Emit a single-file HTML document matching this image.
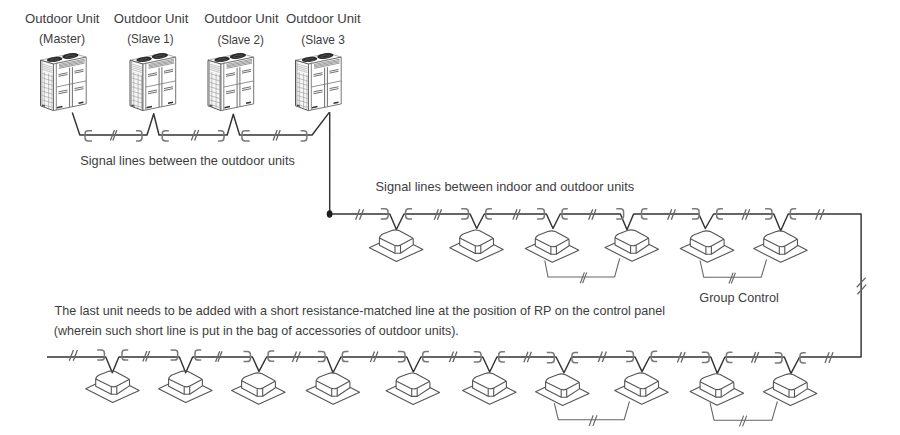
<!DOCTYPE html>
<html><head><meta charset="utf-8"><style>
html,body{margin:0;padding:0;background:#fff;width:900px;height:435px;overflow:hidden}
svg{display:block;font-family:"Liberation Sans",sans-serif}
</style></head><body>
<svg width="900" height="435" viewBox="0 0 900 435"><defs><g id="ou"><path d="M4.5,10.2 L17.5,14 L50.2,7.1 L37.2,3.3 Z" fill="#fff" stroke="#888" stroke-width="0.7"/><path d="M4.5,10.2 L17.5,14 L17.5,60.6 L4.5,55.8 Z" fill="#f6f6f6" stroke="#555" stroke-width="1"/><path d="M17.5,14 L50.2,7.1 L50.2,53.9 L17.5,60.6 Z" fill="#fff" stroke="#666" stroke-width="0.9"/><ellipse cx="18.6" cy="9.4" rx="7.8" ry="2.5" transform="rotate(-6 18.6 9.4)" fill="#2a2a2a"/><ellipse cx="18.6" cy="9.9" rx="4.5" ry="1.1" transform="rotate(-6 18.6 9.9)" fill="none" stroke="#777" stroke-width="0.45"/><ellipse cx="34.4" cy="5.9" rx="8.2" ry="2.8" transform="rotate(-8 34.4 5.9)" fill="#2a2a2a"/><ellipse cx="34.4" cy="6.4" rx="4.8" ry="1.2" transform="rotate(-8 34.4 6.4)" fill="none" stroke="#777" stroke-width="0.45"/><path d="M20.3,12.8 V60" stroke="#777" stroke-width="0.9"/><path d="M5.9,10 V56.3" stroke="#888" stroke-width="0.7"/><path d="M23,14.47 L48.6,9.22 M23,15.77 L48.6,10.52 M23,17.07 L48.6,11.82 M23,18.37 L48.6,13.12 " stroke="#707070" stroke-width="0.7"/><path d="M6,13.95 L16.8,17.19 M6,15.75 L16.8,18.99 M6,17.55 L16.8,20.79 M6,19.35 L16.8,22.59 " stroke="#999" stroke-width="0.5"/><path d="M6,23.45 L16.8,26.69 M6,27.85 L16.8,31.09 M6,32.25 L16.8,35.49 M6,36.65 L16.8,39.89 M6,41.05 L16.8,44.29 M6,45.45 L16.8,48.69 M6,49.85 L16.8,53.09 M6,54.25 L16.8,57.49 M8.3,22.14 V56.64 M12.6,23.43 V57.93 M16.0,24.45 V58.95 " stroke="#999" stroke-width="0.6"/><path d="M33.6,17.70 V57.00 M36.4,17.13 V56.43" stroke="#606060" stroke-width="0.9"/><path d="M20.5,36.98 L50,30.94" stroke="#777" stroke-width="0.8"/><path d="M22.5,24.58 L31.5,22.73 M22.5,26.38 L31.5,24.53 M38.5,21.30 L47.5,19.45 M38.5,23.09 L47.5,21.25 M22.5,41.88 L31.5,40.03 M22.5,43.77 L31.5,41.93 M38.5,38.59 L47.5,36.75 M38.5,40.49 L47.5,38.65 " stroke="#555" stroke-width="0.85"/><path d="M21,57.68 L26.5,56.55 M42.5,53.27 L47.5,52.25" stroke="#333" stroke-width="1.6"/><path d="M6,55.2 L9,56.1" stroke="#444" stroke-width="1.1"/></g></defs><path d="M72.3,112.4 L79.8,135.0 L147,135.0 L153.7,113.8 L159,135.0 L227.2,135.0 L233.3,114.2 L239.6,135.0 L312.1,135.0 L329.1,112.6 L329.7,112.6 L329.7,214" fill="none" stroke="#333" stroke-width="1.45" stroke-linejoin="round"/>
<path d="M329.7,214.0 L389.8,214.0 L396.4,229.5 L404.0,214.0 L470.1,214.0 L476.7,228.5 L484.3,214.0 L546.4,214.0 L553.0,228.5 L560.2,214.0 L620.4,214.0 L627.0,229.7 L633.6,214.0 L698.8,214.0 L705.3,228.5 L713.6,214.0 L773.8,214.0 L780.7,230.7 L788.2,214.0 L861.1,214.0 L861.1,357.0 L799.6,357.0 L791.0,373.4 L784.4,357.0 L724.9,357.0 L717.3,373.4 L710.8,357.0 L649.6,357.0 L642.0,371.6 L635.1,357.0 L571.6,357.0 L564.0,372.8 L556.1,357.0 L496.9,357.0 L489.7,372.0 L482.8,357.0 L420.9,357.0 L413.3,372.0 L406.8,357.0 L340.9,357.0 L333.0,372.8 L326.8,357.0 L266.6,357.0 L259.0,371.4 L252.4,357.0 L192.6,357.0 L185.7,372.8 L179.4,357.0 L118.9,357.0 L112.3,372.8 L105.8,357.0 L47,357.0" fill="none" stroke="#333" stroke-width="1.45" stroke-linejoin="round"/>
<g fill="none" stroke="#7a7a7a" stroke-width="1.5"><path d="M92.0,130.7 H88.2 Q85.0,130.7 85.0,133.9 V137.7 Q85.0,140.9 88.2,140.9 H92.0"/><path d="M168.8,130.7 H165.4 Q162.2,130.7 162.2,133.9 V137.7 Q162.2,140.9 165.4,140.9 H168.8"/><path d="M249.7,130.7 H245.1 Q241.9,130.7 241.9,133.9 V137.7 Q241.9,140.9 245.1,140.9 H249.7"/><path d="M136.0,130.7 H138.8 Q142.0,130.7 142.0,133.9 V137.7 Q142.0,140.9 138.8,140.9 H136.0"/><path d="M218.0,130.7 H220.8 Q224.0,130.7 224.0,133.9 V137.7 Q224.0,140.9 220.8,140.9 H218.0"/><path d="M300.6,130.7 H303.7 Q306.9,130.7 306.9,133.9 V137.7 Q306.9,140.9 303.7,140.9 H300.6"/><path d="M380.8,208.7 H384.9 Q388.1,208.7 388.1,211.9 V215.7 Q388.1,218.9 384.9,218.9 H380.8"/><path d="M461.2,208.7 H465.2 Q468.4,208.7 468.4,211.9 V215.7 Q468.4,218.9 465.2,218.9 H461.2"/><path d="M537.1,208.7 H541.2 Q544.4,208.7 544.4,211.9 V215.7 Q544.4,218.9 541.2,218.9 H537.1"/><path d="M616.3,208.7 H620.4 Q623.6,208.7 623.6,211.9 V215.7 Q623.6,218.9 620.4,218.9 H616.3"/><path d="M691.9,208.7 H695.9 Q699.1,208.7 699.1,211.9 V215.7 Q699.1,218.9 695.9,218.9 H691.9"/><path d="M765.1,208.7 H768.8 Q772.0,208.7 772.0,211.9 V215.7 Q772.0,218.9 768.8,218.9 H765.1"/><path d="M412.1,208.7 H408.8 Q405.6,208.7 405.6,211.9 V215.7 Q405.6,218.9 408.8,218.9 H412.1"/><path d="M491.9,208.7 H488.9 Q485.7,208.7 485.7,211.9 V215.7 Q485.7,218.9 488.9,218.9 H491.9"/><path d="M567.8,208.7 H565.2 Q562.0,208.7 562.0,211.9 V215.7 Q562.0,218.9 565.2,218.9 H567.8"/><path d="M647.5,208.7 H644.7 Q641.5,208.7 641.5,211.9 V215.7 Q641.5,218.9 644.7,218.9 H647.5"/><path d="M722.9,208.7 H719.9 Q716.7,208.7 716.7,211.9 V215.7 Q716.7,218.9 719.9,218.9 H722.9"/><path d="M796.2,208.7 H793.5 Q790.3,208.7 790.3,211.9 V215.7 Q790.3,218.9 793.5,218.9 H796.2"/><path d="M97.2,349.9 H101.2 Q104.4,349.9 104.4,353.1 V356.9 Q104.4,360.1 101.2,360.1 H97.2"/><path d="M170.5,349.9 H174.5 Q177.7,349.9 177.7,353.1 V356.9 Q177.7,360.1 174.5,360.1 H170.5"/><path d="M243.5,351.4 H247.2 Q250.4,351.4 250.4,354.6 V358.4 Q250.4,361.6 247.2,361.6 H243.5"/><path d="M317.8,351.4 H321.9 Q325.1,351.4 325.1,354.6 V358.4 Q325.1,361.6 321.9,361.6 H317.8"/><path d="M397.8,351.5 H401.9 Q405.1,351.5 405.1,354.7 V358.5 Q405.1,361.7 401.9,361.7 H397.8"/><path d="M473.8,351.7 H477.9 Q481.1,351.7 481.1,354.9 V358.7 Q481.1,361.9 477.9,361.9 H473.8"/><path d="M546.8,352.6 H551.1 Q554.3,352.6 554.3,355.8 V359.6 Q554.3,362.8 551.1,362.8 H546.8"/><path d="M626.1,351.2 H630.2 Q633.4,351.2 633.4,354.4 V358.2 Q633.4,361.4 630.2,361.4 H626.1"/><path d="M701.8,352.3 H705.9 Q709.1,352.3 709.1,355.5 V359.3 Q709.1,362.5 705.9,362.5 H701.8"/><path d="M774.8,352.7 H778.8 Q782.0,352.7 782.0,355.9 V359.7 Q782.0,362.9 778.8,362.9 H774.8"/><path d="M128.2,349.9 H125.2 Q122.0,349.9 122.0,353.1 V356.9 Q122.0,360.1 125.2,360.1 H128.2"/><path d="M201.2,349.9 H198.2 Q195.0,349.9 195.0,353.1 V356.9 Q195.0,360.1 198.2,360.1 H201.2"/><path d="M274.2,351.1 H271.2 Q268.0,351.1 268.0,354.3 V358.1 Q268.0,361.3 271.2,361.3 H274.2"/><path d="M348.5,351.4 H345.5 Q342.3,351.4 342.3,354.6 V358.4 Q342.3,361.6 345.5,361.6 H348.5"/><path d="M428.9,351.5 H425.9 Q422.7,351.5 422.7,354.7 V358.5 Q422.7,361.7 425.9,361.7 H428.9"/><path d="M504.9,351.7 H501.9 Q498.7,351.7 498.7,354.9 V358.7 Q498.7,361.9 501.9,361.9 H504.9"/><path d="M578.1,352.6 H575.1 Q571.9,352.6 571.9,355.8 V359.6 Q571.9,362.8 575.1,362.8 H578.1"/><path d="M657.2,351.2 H654.5 Q651.3,351.2 651.3,354.4 V358.2 Q651.3,361.4 654.5,361.4 H657.2"/><path d="M732.5,352.3 H729.5 Q726.3,352.3 726.3,355.5 V359.3 Q726.3,362.5 729.5,362.5 H732.5"/><path d="M805.8,352.7 H803.2 Q800.0,352.7 800.0,355.9 V359.7 Q800.0,362.9 803.2,362.9 H805.8"/></g>
<g fill="none" stroke="#666" stroke-width="1.3"><path d="M110.40,140.60 L114.50,130.00 M112.80,140.60 L116.90,130.00"/><path d="M191.30,140.60 L195.40,130.00 M194.60,140.60 L198.70,130.00"/><path d="M273.10,140.60 L277.20,130.00 M276.10,140.60 L280.20,130.00"/><path d="M355.60,219.80 L359.70,209.20 M359.50,219.80 L363.60,209.20"/><path d="M434.30,219.80 L438.40,209.20 M437.40,219.80 L441.50,209.20"/><path d="M512.90,219.80 L517.00,209.20 M516.10,219.80 L520.20,209.20"/><path d="M588.60,219.80 L592.70,209.20 M591.90,219.80 L596.00,209.20"/><path d="M667.60,219.80 L671.70,209.20 M671.30,219.80 L675.40,209.20"/><path d="M742.10,219.80 L746.20,209.20 M745.60,219.80 L749.70,209.20"/><path d="M815.60,219.80 L819.70,209.20 M820.00,219.80 L824.10,209.20"/><path d="M856.8,287.2 L865.6,277.6 M857.4,294.2 L866.2,284.6"/><path d="M69.30,360.70 L73.40,350.10 M73.30,360.70 L77.40,350.10"/><path d="M142.80,361.50 L146.90,350.90 M145.60,361.50 L149.70,350.90"/><path d="M215.60,361.80 L219.70,351.20 M217.90,361.80 L222.00,351.20"/><path d="M292.40,362.10 L296.50,351.50 M296.30,362.10 L300.40,351.50"/><path d="M370.40,362.10 L374.50,351.50 M373.80,362.10 L377.90,351.50"/><path d="M449.40,362.10 L453.50,351.50 M452.90,362.10 L457.00,351.50"/><path d="M523.90,362.30 L528.00,351.70 M527.30,362.30 L531.40,351.70"/><path d="M598.30,362.00 L602.40,351.40 M602.30,362.00 L606.40,351.40"/><path d="M677.40,362.50 L681.50,351.90 M681.00,362.50 L685.10,351.90"/><path d="M751.50,362.70 L755.60,352.10 M754.60,362.70 L758.70,352.10"/><path d="M825.00,362.90 L829.10,352.30 M828.90,362.90 L833.00,352.30"/></g>
<ellipse cx="329.6" cy="214" rx="2.9" ry="3.7" fill="#1e1e1e"/>
<g fill="none" stroke="#555" stroke-width="1.1" stroke-linejoin="round"><path d="M379.40,243.00 L369.40,247.70 L396.40,261.40 L422.90,249.40 L413.20,244.40"/>
<path d="M379.40,238.60 Q379.40,235.60 382.80,234.00 L391.90,230.60 Q395.60,229.20 399.40,230.70 L411.40,237.20 Q413.20,238.10 413.20,239.40 L413.20,244.90 L400.50,253.30 L394.90,253.30 L379.40,245.20 Z"/>
<path d="M379.40,237.90 L393.80,245.10 Q397.30,246.70 400.60,245.00 L413.20,238.20"/>
<path d="M395.00,245.60 V253.30 M400.50,245.20 V253.30"/>
<path d="M459.70,243.10 L449.70,247.80 L476.70,261.50 L503.20,249.50 L493.50,244.50"/>
<path d="M459.70,238.70 Q459.70,235.70 463.10,234.10 L472.20,230.70 Q475.90,229.30 479.70,230.80 L491.70,237.30 Q493.50,238.20 493.50,239.50 L493.50,245.00 L480.80,253.40 L475.20,253.40 L459.70,245.30 Z"/>
<path d="M459.70,238.00 L474.10,245.20 Q477.60,246.80 480.90,245.10 L493.50,238.30"/>
<path d="M475.30,245.70 V253.40 M480.80,245.30 V253.40"/>
<path d="M535.30,243.90 L525.30,248.60 L552.30,262.30 L578.80,250.30 L569.10,245.30"/>
<path d="M535.30,239.50 Q535.30,236.50 538.70,234.90 L547.80,231.50 Q551.50,230.10 555.30,231.60 L567.30,238.10 Q569.10,239.00 569.10,240.30 L569.10,245.80 L556.40,254.20 L550.80,254.20 L535.30,246.10 Z"/>
<path d="M535.30,238.80 L549.70,246.00 Q553.20,247.60 556.50,245.90 L569.10,239.10"/>
<path d="M550.90,246.50 V254.20 M556.40,246.10 V254.20"/>
<path d="M615.00,242.90 L605.00,247.60 L632.00,261.30 L658.50,249.30 L648.80,244.30"/>
<path d="M615.00,238.50 Q615.00,235.50 618.40,233.90 L627.50,230.50 Q631.20,229.10 635.00,230.60 L647.00,237.10 Q648.80,238.00 648.80,239.30 L648.80,244.80 L636.10,253.20 L630.50,253.20 L615.00,245.10 Z"/>
<path d="M615.00,237.80 L629.40,245.00 Q632.90,246.60 636.20,244.90 L648.80,238.10"/>
<path d="M630.60,245.50 V253.20 M636.10,245.10 V253.20"/>
<path d="M690.30,243.90 L680.30,248.60 L707.30,262.30 L733.80,250.30 L724.10,245.30"/>
<path d="M690.30,239.50 Q690.30,236.50 693.70,234.90 L702.80,231.50 Q706.50,230.10 710.30,231.60 L722.30,238.10 Q724.10,239.00 724.10,240.30 L724.10,245.80 L711.40,254.20 L705.80,254.20 L690.30,246.10 Z"/>
<path d="M690.30,238.80 L704.70,246.00 Q708.20,247.60 711.50,245.90 L724.10,239.10"/>
<path d="M705.90,246.50 V254.20 M711.40,246.10 V254.20"/>
<path d="M763.70,243.90 L753.70,248.60 L780.70,262.30 L807.20,250.30 L797.50,245.30"/>
<path d="M763.70,239.50 Q763.70,236.50 767.10,234.90 L776.20,231.50 Q779.90,230.10 783.70,231.60 L795.70,238.10 Q797.50,239.00 797.50,240.30 L797.50,245.80 L784.80,254.20 L779.20,254.20 L763.70,246.10 Z"/>
<path d="M763.70,238.80 L778.10,246.00 Q781.60,247.60 784.90,245.90 L797.50,239.10"/>
<path d="M779.30,246.50 V254.20 M784.80,246.10 V254.20"/>
<path d="M95.70,384.00 L85.70,388.70 L112.70,402.40 L139.20,390.40 L129.50,385.40"/>
<path d="M95.70,379.60 Q95.70,376.60 99.10,375.00 L108.20,371.60 Q111.90,370.20 115.70,371.70 L127.70,378.20 Q129.50,379.10 129.50,380.40 L129.50,385.90 L116.80,394.30 L111.20,394.30 L95.70,386.20 Z"/>
<path d="M95.70,378.90 L110.10,386.10 Q113.60,387.70 116.90,386.00 L129.50,379.20"/>
<path d="M111.30,386.60 V394.30 M116.80,386.20 V394.30"/>
<path d="M168.60,384.00 L158.60,388.70 L185.60,402.40 L212.10,390.40 L202.40,385.40"/>
<path d="M168.60,379.60 Q168.60,376.60 172.00,375.00 L181.10,371.60 Q184.80,370.20 188.60,371.70 L200.60,378.20 Q202.40,379.10 202.40,380.40 L202.40,385.90 L189.70,394.30 L184.10,394.30 L168.60,386.20 Z"/>
<path d="M168.60,378.90 L183.00,386.10 Q186.50,387.70 189.80,386.00 L202.40,379.20"/>
<path d="M184.20,386.60 V394.30 M189.70,386.20 V394.30"/>
<path d="M241.60,385.90 L231.60,390.60 L258.60,404.30 L285.10,392.30 L275.40,387.30"/>
<path d="M241.60,381.50 Q241.60,378.50 245.00,376.90 L254.10,373.50 Q257.80,372.10 261.60,373.60 L273.60,380.10 Q275.40,381.00 275.40,382.30 L275.40,387.80 L262.70,396.20 L257.10,396.20 L241.60,388.10 Z"/>
<path d="M241.60,380.80 L256.00,388.00 Q259.50,389.60 262.80,387.90 L275.40,381.10"/>
<path d="M257.20,388.50 V396.20 M262.70,388.10 V396.20"/>
<path d="M316.10,385.90 L306.10,390.60 L333.10,404.30 L359.60,392.30 L349.90,387.30"/>
<path d="M316.10,381.50 Q316.10,378.50 319.50,376.90 L328.60,373.50 Q332.30,372.10 336.10,373.60 L348.10,380.10 Q349.90,381.00 349.90,382.30 L349.90,387.80 L337.20,396.20 L331.60,396.20 L316.10,388.10 Z"/>
<path d="M316.10,380.80 L330.50,388.00 Q334.00,389.60 337.30,387.90 L349.90,381.10"/>
<path d="M331.70,388.50 V396.20 M337.20,388.10 V396.20"/>
<path d="M396.10,386.10 L386.10,390.80 L413.10,404.50 L439.60,392.50 L429.90,387.50"/>
<path d="M396.10,381.70 Q396.10,378.70 399.50,377.10 L408.60,373.70 Q412.30,372.30 416.10,373.80 L428.10,380.30 Q429.90,381.20 429.90,382.50 L429.90,388.00 L417.20,396.40 L411.60,396.40 L396.10,388.30 Z"/>
<path d="M396.10,381.00 L410.50,388.20 Q414.00,389.80 417.30,388.10 L429.90,381.30"/>
<path d="M411.70,388.70 V396.40 M417.20,388.30 V396.40"/>
<path d="M472.60,385.90 L462.60,390.60 L489.60,404.30 L516.10,392.30 L506.40,387.30"/>
<path d="M472.60,381.50 Q472.60,378.50 476.00,376.90 L485.10,373.50 Q488.80,372.10 492.60,373.60 L504.60,380.10 Q506.40,381.00 506.40,382.30 L506.40,387.80 L493.70,396.20 L488.10,396.20 L472.60,388.10 Z"/>
<path d="M472.60,380.80 L487.00,388.00 Q490.50,389.60 493.80,387.90 L506.40,381.10"/>
<path d="M488.20,388.50 V396.20 M493.70,388.10 V396.20"/>
<path d="M545.60,387.00 L535.60,391.70 L562.60,405.40 L589.10,393.40 L579.40,388.40"/>
<path d="M545.60,382.60 Q545.60,379.60 549.00,378.00 L558.10,374.60 Q561.80,373.20 565.60,374.70 L577.60,381.20 Q579.40,382.10 579.40,383.40 L579.40,388.90 L566.70,397.30 L561.10,397.30 L545.60,389.20 Z"/>
<path d="M545.60,381.90 L560.00,389.10 Q563.50,390.70 566.80,389.00 L579.40,382.20"/>
<path d="M561.20,389.60 V397.30 M566.70,389.20 V397.30"/>
<path d="M624.70,385.90 L614.70,390.60 L641.70,404.30 L668.20,392.30 L658.50,387.30"/>
<path d="M624.70,381.50 Q624.70,378.50 628.10,376.90 L637.20,373.50 Q640.90,372.10 644.70,373.60 L656.70,380.10 Q658.50,381.00 658.50,382.30 L658.50,387.80 L645.80,396.20 L640.20,396.20 L624.70,388.10 Z"/>
<path d="M624.70,380.80 L639.10,388.00 Q642.60,389.60 645.90,387.90 L658.50,381.10"/>
<path d="M640.30,388.50 V396.20 M645.80,388.10 V396.20"/>
<path d="M700.10,386.80 L690.10,391.50 L717.10,405.20 L743.60,393.20 L733.90,388.20"/>
<path d="M700.10,382.40 Q700.10,379.40 703.50,377.80 L712.60,374.40 Q716.30,373.00 720.10,374.50 L732.10,381.00 Q733.90,381.90 733.90,383.20 L733.90,388.70 L721.20,397.10 L715.60,397.10 L700.10,389.00 Z"/>
<path d="M700.10,381.70 L714.50,388.90 Q718.00,390.50 721.30,388.80 L733.90,382.00"/>
<path d="M715.70,389.40 V397.10 M721.20,389.00 V397.10"/>
<path d="M773.40,387.00 L763.40,391.70 L790.40,405.40 L816.90,393.40 L807.20,388.40"/>
<path d="M773.40,382.60 Q773.40,379.60 776.80,378.00 L785.90,374.60 Q789.60,373.20 793.40,374.70 L805.40,381.20 Q807.20,382.10 807.20,383.40 L807.20,388.90 L794.50,397.30 L788.90,397.30 L773.40,389.20 Z"/>
<path d="M773.40,381.90 L787.80,389.10 Q791.30,390.70 794.60,389.00 L807.20,382.20"/>
<path d="M789.00,389.60 V397.30 M794.50,389.20 V397.30"/></g>
<g fill="none" stroke="#666" stroke-width="1.1"><path d="M544.8,260.5 L548,277 L614.6,277 L619.7,258.3"/><path d="M700,260.5 L703.8,277.3 L761.2,277.3 L766.6,259.4"/><path d="M554.3,403.1 L558.3,419.7 L624.2,419.7 L629.5,401.3"/><path d="M710,402.5 L714,420.2 L771.9,420.2 L777.4,401.3"/><path d="M580.30,283.20 L584.40,272.40 M582.60,283.20 L586.70,272.40"/><path d="M729.00,283.50 L733.10,272.70 M731.30,283.50 L735.40,272.70"/><path d="M589.10,426.00 L593.20,415.20 M592.90,426.00 L597.00,415.20"/><path d="M739.50,426.40 L743.60,415.60 M742.60,426.40 L746.70,415.60"/></g>
<use href="#ou" x="36" y="50"/><use href="#ou" x="125.5" y="50"/><use href="#ou" x="203.5" y="50"/><use href="#ou" x="291" y="50"/>
<g font-family="Liberation Sans, sans-serif" fill="#3d3d3d"><text x="25" y="22.8" font-size="13" textLength="74.5" lengthAdjust="spacingAndGlyphs">Outdoor Unit</text><text x="113.8" y="22.8" font-size="13" textLength="74.5" lengthAdjust="spacingAndGlyphs">Outdoor Unit</text><text x="204.2" y="23.3" font-size="13" textLength="74.5" lengthAdjust="spacingAndGlyphs">Outdoor Unit</text><text x="286.1" y="22.8" font-size="13" textLength="74.5" lengthAdjust="spacingAndGlyphs">Outdoor Unit</text><text x="39" y="43.3" font-size="13" textLength="46" lengthAdjust="spacingAndGlyphs">(Master)</text><text x="127.2" y="43.3" font-size="13" textLength="46.5" lengthAdjust="spacingAndGlyphs">(Slave 1)</text><text x="217.4" y="44.4" font-size="13" textLength="46.5" lengthAdjust="spacingAndGlyphs">(Slave 2)</text><text x="301.3" y="44.4" font-size="13" textLength="43.5" lengthAdjust="spacingAndGlyphs">(Slave 3</text><text x="80.3" y="165" font-size="13" textLength="214.5" lengthAdjust="spacingAndGlyphs">Signal lines between the outdoor units</text><text x="375.6" y="190.7" font-size="13" textLength="258.5" lengthAdjust="spacingAndGlyphs">Signal lines between indoor and outdoor units</text><text x="699.3" y="301.7" font-size="13" textLength="79.5" lengthAdjust="spacingAndGlyphs">Group Control</text><text x="54.6" y="314.6" font-size="13" textLength="610.5" lengthAdjust="spacingAndGlyphs">The last unit needs to be added with a short resistance-matched line at the position of RP on the control panel</text><text x="53.8" y="335" font-size="13" textLength="405" lengthAdjust="spacingAndGlyphs">(wherein such short line is put in the bag of accessories of outdoor units).</text></g></svg>
</body></html>
